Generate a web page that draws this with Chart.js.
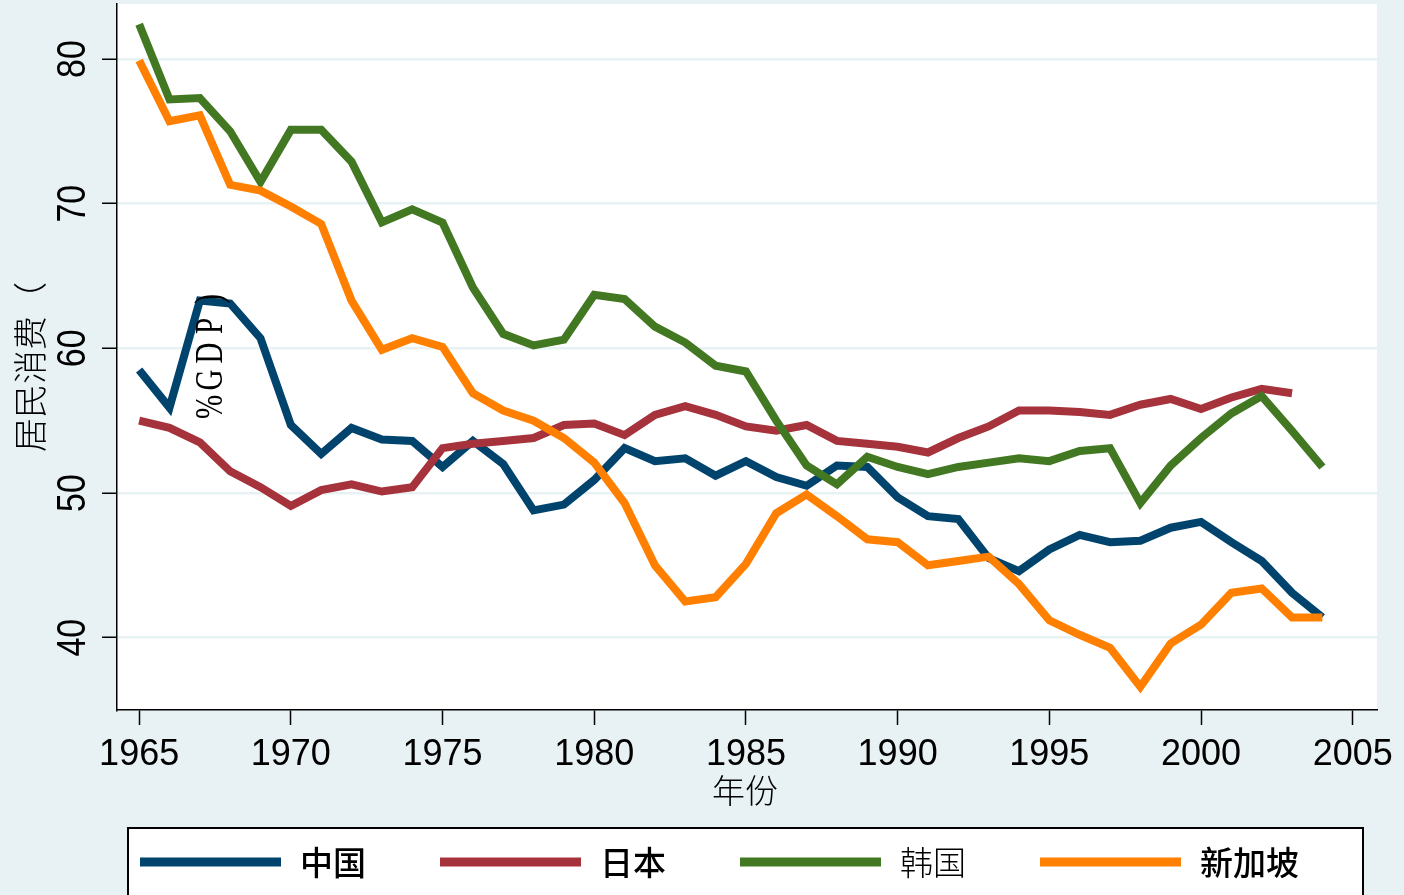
<!DOCTYPE html>
<html>
<head>
<meta charset="utf-8">
<script src="https://cdn.jsdelivr.net/npm/chart.js@4"></script>
<style>
html, body { margin: 0; padding: 0; background: #e8f1f3; }
canvas { display: block; }
</style>
</head>
<body>
<canvas id="chart-consumption" width="1404" height="895"></canvas>
<script>
// data
const years = [1965, 1966, 1967, 1968, 1969, 1970, 1971, 1972, 1973, 1974,
               1975, 1976, 1977, 1978, 1979, 1980, 1981, 1982, 1983, 1984,
               1985, 1986, 1987, 1988, 1989, 1990, 1991, 1992, 1993, 1994,
               1995, 1996, 1997, 1998, 1999, 2000, 2001, 2002, 2003, 2004];

const china = [58.5, 55.9, 63.3, 63.1, 60.7, 54.7, 52.7, 54.5, 53.7, 53.6,
               51.8, 53.6, 52.0, 48.8, 49.2, 50.9, 53.1, 52.2, 52.4, 51.2,
               52.2, 51.1, 50.5, 51.9, 51.8, 49.7, 48.4, 48.2, 45.5, 44.6,
               46.1, 47.1, 46.6, 46.7, 47.6, 48.0, 46.6, 45.3, 43.1, 41.4];

const japan = [55.0, 54.5, 53.5, 51.5, 50.4, 49.1, 50.2, 50.6, 50.1, 50.4,
               53.1, 53.4, 53.6, 53.8, 54.7, 54.8, 54.0, 55.4, 56.0, 55.4,
               54.6, 54.3, 54.7, 53.6, 53.4, 53.2, 52.8, 53.8, 54.6, 55.7,
               55.7, 55.6, 55.4, 56.1, 56.5, 55.8, 56.6, 57.2, 56.9, null];

const korea = [82.4, 77.2, 77.3, 75.0, 71.5, 75.1, 75.1, 72.9, 68.7, 69.6,
               68.7, 64.2, 61.0, 60.2, 60.6, 63.7, 63.4, 61.5, 60.4, 58.8,
               58.4, 55.0, 51.9, 50.6, 52.5, 51.8, 51.3, 51.8, 52.1, 52.4,
               52.2, 52.9, 53.1, 49.3, 51.9, 53.8, 55.5, 56.7, 54.3, 51.8];

const singapore = [79.9, 75.7, 76.1, 71.3, 70.9, 69.8, 68.6, 63.3, 59.9, 60.7,
                   60.1, 56.9, 55.7, 55.0, 53.8, 52.1, 49.3, 45.0, 42.5, 42.8,
                   45.1, 48.6, 49.9, 48.4, 46.8, 46.6, 45.0, 45.3, 45.6, 43.7,
                   41.2, 40.2, 39.3, 36.6, 39.6, 40.9, 43.1, 43.4, 41.4, 41.4];

const seriesNames = ['中国', '日本', '韩国', '新加坡'];
const xTicks = [1965, 1970, 1975, 1980, 1985, 1990, 1995, 2000, 2005];
const yTicks = [40, 50, 60, 70, 80];
const yTitle = '居民消费（';
const yTitleRest = '%GDP)';
const xTitle = '年份';

// colors
const COLORS = {
    bg: '#e8f1f3',
    grid: '#e8f1f3',
    blue: '#00446e',
    red: '#a6323b',
    green: '#437823',
    orange: '#ff8000',
};
const seriesColors = [COLORS.blue, COLORS.red, COLORS.green, COLORS.orange];

// plugin: backgrounds, rotated labels, legend box
const stataLook = {
    id: 'stataLook',
    beforeDraw(chart) {
        const ctx = chart.ctx;
        const a = chart.chartArea;
        ctx.save();
        ctx.fillStyle = COLORS.bg;
        ctx.fillRect(0, 0, chart.width, chart.height);
        ctx.fillStyle = '#ffffff';
        ctx.fillRect(a.left, a.top, a.right - a.left, a.bottom - a.top);
        ctx.restore();
    },
    afterDraw(chart) {
        const ctx = chart.ctx;
        const yScale = chart.scales.y;
        ctx.save();
        ctx.fillStyle = '#000';

        // y tick labels, rotated
        ctx.font = '34px "Liberation Sans", Arial, sans-serif';
        ctx.textAlign = 'center';
        ctx.textBaseline = 'middle';
        yTicks.forEach(v => {
            ctx.save();
            ctx.translate(74, yScale.getPixelForValue(v));
            ctx.rotate(-Math.PI / 2);
            ctx.scale(1, 1.2);
            ctx.fillText(String(v), 0, 0);
            ctx.restore();
        });

        // y title (split the way the original renders it)
        ctx.save();
        ctx.translate(30, 452);
        ctx.rotate(-Math.PI / 2);
        ctx.font = '300 34px "Noto Sans CJK SC", sans-serif';
        ctx.textAlign = 'left';
        ctx.fillText(yTitle, 0, 0);
        ctx.restore();

        ctx.font = '29px "Liberation Serif", "DejaVu Serif", serif';
        ctx.textAlign = 'center';
        Array.from(yTitleRest).forEach((ch, i) => {
            ctx.save();
            ctx.translate(212, 407 - i * 27);
            ctx.rotate(-Math.PI / 2);
            ctx.scale(1, 1.35);
            ctx.fillText(ch, 0, 0);
            ctx.restore();
        });

        // x title
        ctx.font = '300 33px "Noto Sans CJK SC", sans-serif';
        ctx.textAlign = 'center';
        ctx.fillText(xTitle, 745, 790);

        // legend
        ctx.fillStyle = '#ffffff';
        ctx.fillRect(128, 828, 1235, 80);
        ctx.strokeStyle = '#000';
        ctx.lineWidth = 2;
        ctx.strokeRect(128, 828, 1235, 80);
        ctx.textAlign = 'left';
        seriesNames.forEach((name, i) => {
            const x0 = 140 + i * 300;
            ctx.strokeStyle = seriesColors[i];
            ctx.lineWidth = 9;
            ctx.beginPath();
            ctx.moveTo(x0, 862);
            ctx.lineTo(x0 + 141, 862);
            ctx.stroke();
            ctx.fillStyle = '#000';
            ctx.font = (i === 2 ? '300 ' : '500 ') + '33px "Noto Sans CJK SC", sans-serif';
            ctx.fillText(name, x0 + 160, 862);
        });
        ctx.restore();
    }
};

function makeSet(label, data, color, order) {
    return {
        label: label,
        data: data,
        borderColor: color,
        backgroundColor: color,
        borderWidth: 8,
        pointRadius: 0,
        tension: 0,
        fill: false,
        order: order,
    };
}

const config = {
    type: 'line',
    data: {
        labels: years,
        datasets: [
            makeSet(seriesNames[0], china, COLORS.blue, 4),
            makeSet(seriesNames[1], japan, COLORS.red, 3),
            makeSet(seriesNames[2], korea, COLORS.green, 2),
            makeSet(seriesNames[3], singapore, COLORS.orange, 1),
        ]
    },
    options: {
        responsive: false,
        animation: false,
        layout: { padding: { top: 4, right: 27, left: 0, bottom: 0 } },
        scales: {
            x: {
                type: 'linear',
                min: 1964.27,
                max: 2005.8,
                afterBuildTicks: s => { s.ticks = xTicks.map(v => ({ value: v })); },
                afterFit: s => { s.height = 185; },
                grid: { drawOnChartArea: false, drawTicks: true, tickLength: 15, tickColor: '#000', tickWidth: 1.5 },
                border: { display: true, color: '#000', width: 1.5 },
                ticks: {
                    color: '#000',
                    padding: 8,
                    maxRotation: 0,
                    font: { family: '"Liberation Sans", Arial, sans-serif', size: 36 },
                    callback: v => String(v),
                },
            },
            y: {
                min: 35,
                max: 83.8,
                afterBuildTicks: s => { s.ticks = yTicks.map(v => ({ value: v })); },
                afterFit: s => { s.width = 117; },
                grid: { color: COLORS.grid, lineWidth: 2.5, drawTicks: true, tickLength: 15, tickColor: '#000', tickWidth: 1.5 },
                border: { display: true, color: '#000', width: 1.5 },
                ticks: { display: false },
            }
        },
        plugins: {
            legend: { display: false },
            title: { display: false },
            tooltip: { enabled: false },
        }
    },
    plugins: [stataLook],
};

var chart = new Chart(document.getElementById('chart-consumption'), config);
</script>
</body>
</html>
